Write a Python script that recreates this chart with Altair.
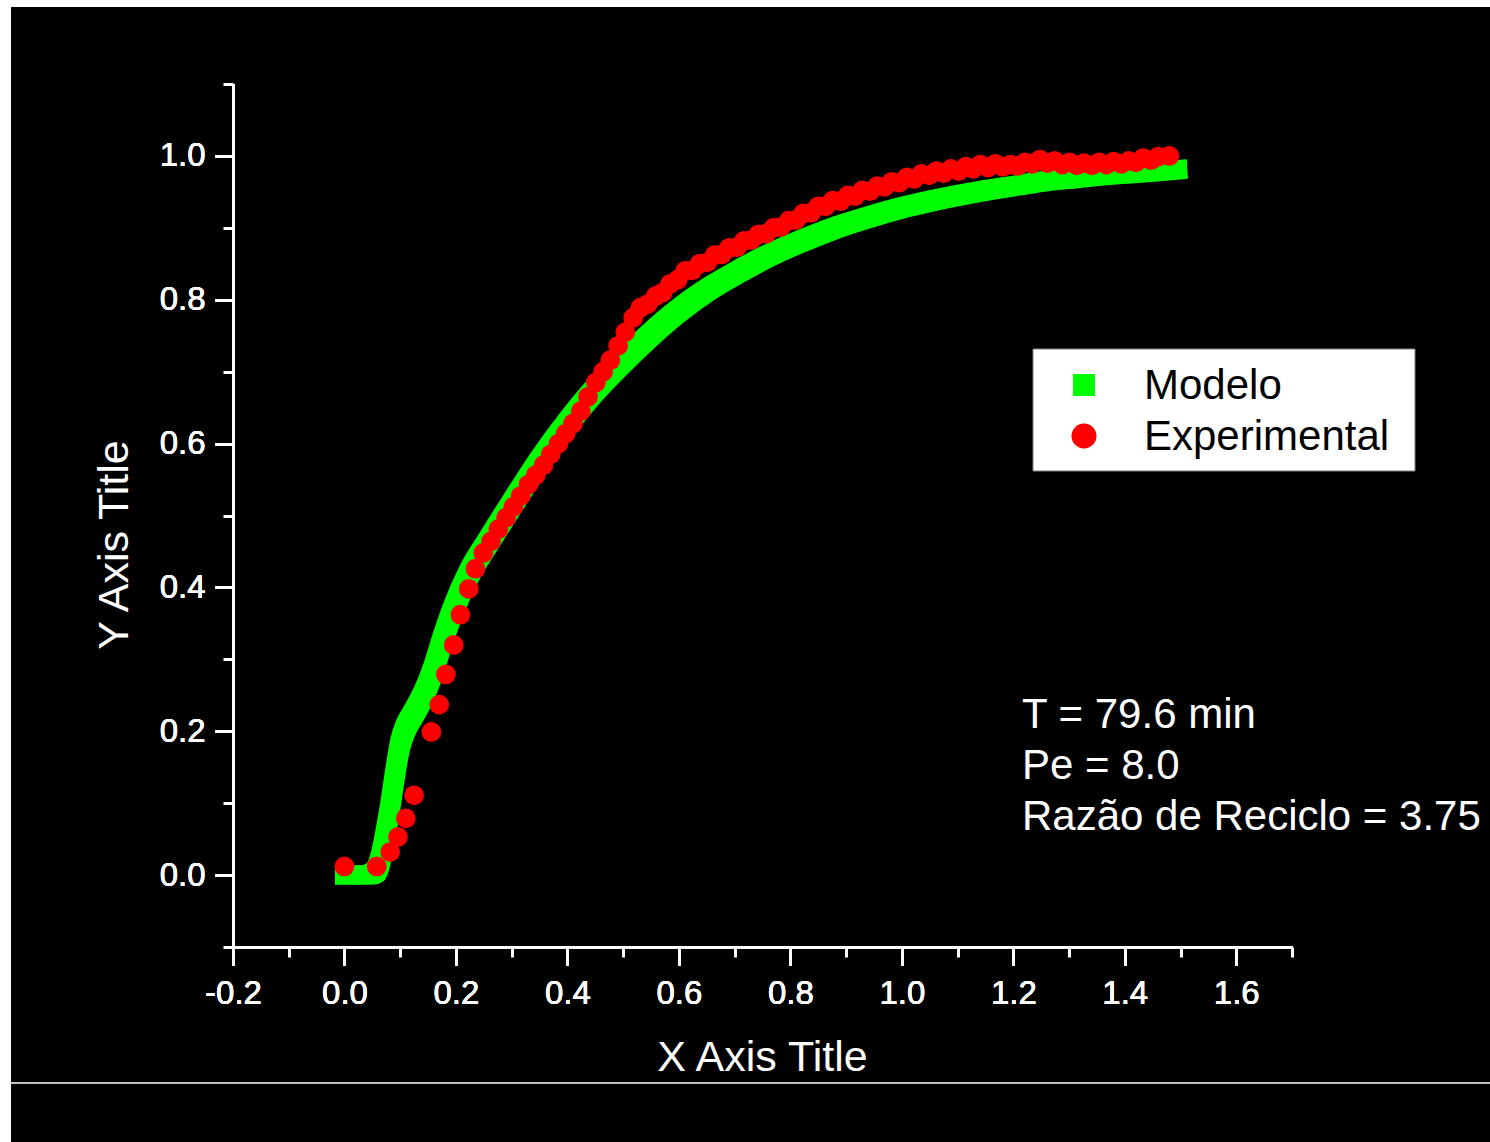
import altair as alt
import pandas as pd

# Model curve (Modelo)
model_x = [0.000, 0.040, 0.055, 0.064, 0.072, 0.082, 0.091, 0.100, 0.110, 0.122,
           0.135, 0.146, 0.160, 0.176, 0.197, 0.224, 0.260, 0.300, 0.350, 0.400,
           0.450, 0.500, 0.550, 0.600, 0.650, 0.700, 0.750, 0.800, 0.850, 0.900,
           0.950, 1.000, 1.050, 1.100, 1.150, 1.200, 1.250, 1.300, 1.350, 1.400,
           1.450, 1.495]
model_y = [0.000, 0.000, 0.004, 0.020, 0.050, 0.095, 0.142, 0.182, 0.205, 0.222,
           0.240, 0.258, 0.287, 0.327, 0.373, 0.420, 0.466, 0.515, 0.575, 0.628,
           0.675, 0.715, 0.752, 0.785, 0.813, 0.836, 0.857, 0.875, 0.891, 0.905,
           0.917, 0.928, 0.937, 0.945, 0.952, 0.958, 0.964, 0.968, 0.972, 0.975,
           0.978, 0.981]

# Measured points (Experimental)
exp_x = [0.000, 0.058, 0.082, 0.096, 0.110, 0.125, 0.156, 0.170, 0.182, 0.196,
         0.208, 0.223, 0.235, 0.249, 0.263, 0.276, 0.290, 0.303, 0.316, 0.330,
         0.343, 0.357, 0.370, 0.384, 0.397, 0.410, 0.424, 0.437, 0.451, 0.464,
         0.477, 0.491, 0.504, 0.518,
         0.531, 0.544, 0.558, 0.571, 0.584, 0.598, 0.611, 0.624,
         0.637, 0.651, 0.664, 0.677, 0.690, 0.704, 0.717, 0.730,
         0.743, 0.757, 0.770, 0.783, 0.797, 0.810, 0.823, 0.837,
         0.850, 0.863, 0.876, 0.890, 0.903, 0.916, 0.929, 0.943,
         0.956, 0.969, 0.982, 0.996, 1.009, 1.022, 1.035, 1.049,
         1.062, 1.075, 1.088, 1.102, 1.115, 1.128, 1.141, 1.155,
         1.168, 1.181, 1.195, 1.208, 1.221, 1.234, 1.248, 1.261,
         1.274, 1.288, 1.301, 1.314, 1.327, 1.341, 1.354, 1.367,
         1.380, 1.394, 1.407, 1.420, 1.433, 1.447, 1.460, 1.480]
exp_y = [0.012, 0.012, 0.032, 0.053, 0.079, 0.111, 0.199, 0.237, 0.279, 0.320,
         0.362, 0.398, 0.426, 0.448, 0.464, 0.481, 0.497, 0.512, 0.527, 0.543,
         0.556, 0.570, 0.585, 0.600, 0.614, 0.628, 0.645, 0.665, 0.685, 0.700,
         0.716, 0.736, 0.755, 0.775,
         0.789, 0.794, 0.805, 0.810, 0.822, 0.828, 0.840, 0.841,
         0.850, 0.852, 0.862, 0.863, 0.872, 0.873, 0.882, 0.883,
         0.891, 0.892, 0.900, 0.901, 0.910, 0.911, 0.920, 0.921,
         0.930, 0.930, 0.938, 0.937, 0.945, 0.944, 0.952, 0.951,
         0.958, 0.957, 0.964, 0.963, 0.970, 0.968, 0.975, 0.973,
         0.979, 0.976, 0.982, 0.979, 0.985, 0.982, 0.988, 0.984,
         0.989, 0.985, 0.988, 0.986, 0.991, 0.989, 0.995, 0.990,
         0.993, 0.988, 0.991, 0.987, 0.990, 0.987, 0.991, 0.988,
         0.992, 0.989, 0.993, 0.991, 0.997, 0.994, 0.999, 1.000]

# Axis ticks
x_major = [-0.2, 0.0, 0.2, 0.4, 0.6, 0.8, 1.0, 1.2, 1.4, 1.6]
x_minor = [-0.1, 0.1, 0.3, 0.5, 0.7, 0.9, 1.1, 1.3, 1.5, 1.7]
y_major = [0.0, 0.2, 0.4, 0.6, 0.8, 1.0]
y_minor = [-0.1, 0.1, 0.3, 0.5, 0.7, 0.9, 1.1]

series_names = ["Modelo", "Experimental"]
series_colors = ["#00ff00", "#ff0000"]
notes = ["T = 79.6 min", "Pe = 8.0", "Razão de Reciclo = 3.75"]
x_title = "X Axis Title"
y_title = "Y Axis Title"

FONT = "Liberation Sans"
W, H = 1059, 863

model_df = pd.DataFrame({"x": model_x, "y": model_y})
exp_df = pd.DataFrame({"x": exp_x, "y": exp_y})

xs = alt.Scale(domain=[-0.2, 1.7], nice=False, zero=False)
ys = alt.Scale(domain=[-0.1, 1.1], nice=False, zero=False)

label_expr = "datum.value < 0 ? '-' + format(-datum.value, '.1f') : format(datum.value, '.1f')"

common = dict(domainColor="white", tickColor="white", labelColor="white",
              domainWidth=3, tickWidth=3, grid=False, title=None,
              labelFont=FONT, labelFontSize=33, labelFlush=False)

x_axis_major = alt.Axis(values=x_major, tickSize=18, labelPadding=12,
                        labelExpr=label_expr, orient="bottom", **common)
y_axis_major = alt.Axis(values=y_major, tickSize=18, labelPadding=10,
                        labelExpr=label_expr, orient="left", **common)
x_axis_minor = alt.Axis(values=x_minor, tickSize=10, labels=False, domain=False,
                        tickColor="white", tickWidth=3, grid=False, title=None,
                        orient="bottom")
y_axis_minor = alt.Axis(values=y_minor, tickSize=10, labels=False, domain=False,
                        tickColor="white", tickWidth=3, grid=False, title=None,
                        orient="left")

# The model is plotted with square symbols packed along the curve; the swept
# square is built from a wide centre stroke plus thin strokes at its corners.
model_base = alt.Chart(model_df).encode(
    x=alt.X("x:Q", scale=xs, axis=x_axis_major),
    y=alt.Y("y:Q", scale=ys, axis=y_axis_major),
)
model_layers = [
    model_base.mark_line(color=series_colors[0], strokeWidth=19, strokeCap="square",
                         strokeJoin="round", interpolate="monotone")
]
CORNER = 7
for dx, dy in [(-CORNER, -CORNER), (CORNER, CORNER), (CORNER, -CORNER), (-CORNER, CORNER)]:
    model_layers.append(
        model_base.mark_line(color=series_colors[0], strokeWidth=5, strokeCap="square",
                             strokeJoin="round", interpolate="monotone",
                             xOffset=dx, yOffset=dy)
    )

experimental = alt.Chart(exp_df).mark_circle(
    color=series_colors[1], size=390, opacity=1
).encode(
    x=alt.X("x:Q", scale=xs, axis=x_axis_minor),
    y=alt.Y("y:Q", scale=ys, axis=y_axis_minor),
)

one = pd.DataFrame({"k": [0]})

# page frame: white strips at top and left, thin white rule near the bottom
frame_top = alt.Chart(one).mark_rect(color="white").encode(
    x=alt.value(-233), x2=alt.value(1257), y=alt.value(-84), y2=alt.value(-77))
frame_left = alt.Chart(one).mark_rect(color="white").encode(
    x=alt.value(-233), x2=alt.value(-222), y=alt.value(-84), y2=alt.value(1058))
frame_rule = alt.Chart(one).mark_rule(color="white", strokeWidth=1.5).encode(
    x=alt.value(-222), x2=alt.value(1257), y=alt.value(999))

# axis titles
x_title_mark = alt.Chart(pd.DataFrame({"t": [x_title]})).mark_text(
    font=FONT, fontSize=43, color="white", align="center", baseline="alphabetic"
).encode(text="t:N", x=alt.value(529.5), y=alt.value(987))
y_title_mark = alt.Chart(pd.DataFrame({"t": [y_title]})).mark_text(
    font=FONT, fontSize=43, color="white", align="center", baseline="alphabetic",
    angle=270
).encode(text="t:N", x=alt.value(-105), y=alt.value(461))

# legend box
legend_box = alt.Chart(one).mark_rect(fill="white", stroke="#808080", strokeWidth=1).encode(
    x=alt.value(800), x2=alt.value(1182), y=alt.value(265), y2=alt.value(387))
legend_sq = alt.Chart(one).mark_square(color=series_colors[0], size=484, opacity=1).encode(
    x=alt.value(851), y=alt.value(301))
legend_ci = alt.Chart(one).mark_circle(color=series_colors[1], size=625, opacity=1).encode(
    x=alt.value(851), y=alt.value(352))
legend_t1 = alt.Chart(pd.DataFrame({"t": [series_names[0]]})).mark_text(
    font=FONT, fontSize=42, color="black", align="left", baseline="alphabetic"
).encode(text="t:N", x=alt.value(911), y=alt.value(315))
legend_t2 = alt.Chart(pd.DataFrame({"t": [series_names[1]]})).mark_text(
    font=FONT, fontSize=42, color="black", align="left", baseline="alphabetic"
).encode(text="t:N", x=alt.value(911), y=alt.value(366))

# parameter annotations
note_layers = []
for i, line in enumerate(notes):
    note_layers.append(
        alt.Chart(pd.DataFrame({"t": [line]})).mark_text(
            font=FONT, fontSize=42, color="white", align="left", baseline="alphabetic"
        ).encode(text="t:N", x=alt.value(789), y=alt.value(644 + 51 * i))
    )

chart = alt.layer(
    frame_top, frame_left, frame_rule,
    *model_layers, experimental,
    x_title_mark, y_title_mark,
    legend_box, legend_sq, legend_ci, legend_t1, legend_t2,
    *note_layers,
).resolve_axis(
    x="independent", y="independent"
).properties(
    width=W, height=H,
    background="black",
    padding={"left": 233, "top": 84, "right": 198, "bottom": 195},
    autosize=alt.AutoSizeParams(type="none"),
).configure_view(stroke=None)

chart.save("out.html", embed_options={"renderer": "svg", "actions": False})
